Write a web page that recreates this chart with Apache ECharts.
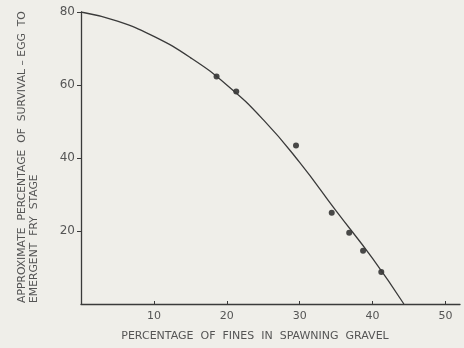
<!DOCTYPE html>
<html>
<head>
<meta charset="utf-8">
<script src="https://cdn.jsdelivr.net/npm/echarts@6/dist/echarts.min.js"></script>
<style>
  html, body { margin: 0; padding: 0; background: #efeee9; }
  #chart { width: 464px; height: 348px; }
</style>
</head>
<body>
<div id="chart"></div>
<script>
// fitted curve
var curveX = [0, 5, 10, 15, 20, 25, 30, 35, 40, 44.3];
var curveY = [80, 77.5, 73.3, 67.5, 60, 50.5, 38.8, 25.5, 12.5, 0];
// observed points
var obsX = [18.6, 21.3, 29.5, 34.4, 36.8, 38.7, 41.2];
var obsY = [62.3, 58.2, 43.4, 25.0, 19.5, 14.6, 8.8];
var xTicks = [10, 20, 30, 40, 50];
var yTicks = [20, 40, 60, 80];

var ink = '#3a3a3a', grey = '#555';
var font = 'DejaVu Sans';

var chart = echarts.init(document.getElementById('chart'));
chart.setOption({
  backgroundColor: '#efeee9',
  animation: false,
  grid: { left: 81, right: 4, top: 12, bottom: 44 },
  xAxis: {
    type: 'value', min: 0, max: 52,
    splitLine: { show: false },
    axisLine: { lineStyle: { color: ink, width: 1.3 } },
    axisTick: { inside: true, length: 3, customValues: xTicks, lineStyle: { color: ink } },
    axisLabel: { customValues: xTicks, color: grey, fontFamily: font, fontSize: 11, margin: 7 }
  },
  yAxis: {
    type: 'value', min: 0, max: 80,
    splitLine: { show: false },
    axisLine: { show: true, lineStyle: { color: ink, width: 1.3 } },
    axisTick: { show: true, length: 4, customValues: yTicks, lineStyle: { color: ink } },
    axisLabel: { customValues: yTicks, color: grey, fontFamily: font, fontSize: 12, margin: 6 }
  },
  series: [
    {
      type: 'line', smooth: true, symbol: 'none',
      lineStyle: { color: ink, width: 1.3 },
      data: curveX.map(function (x, i) { return [x, curveY[i]]; })
    },
    {
      type: 'scatter', symbolSize: 6,
      itemStyle: { color: '#1e1e1e' },
      data: obsX.map(function (x, i) { return [x, obsY[i]]; })
    }
  ],
  graphic: [
    {
      type: 'text', x: 255, y: 336,
      style: { text: 'PERCENTAGE  OF  FINES  IN  SPAWNING  GRAVEL', fill: grey,
        font: '11px "' + font + '"', textAlign: 'center', textVerticalAlign: 'middle' }
    },
    {
      type: 'text', x: 22, y: 303, rotation: Math.PI / 2,
      style: { text: 'APPROXIMATE  PERCENTAGE  OF  SURVIVAL – EGG  TO', fill: grey,
        font: '10.8px "' + font + '"', textAlign: 'left', textVerticalAlign: 'middle' }
    },
    {
      type: 'text', x: 34, y: 303, rotation: Math.PI / 2,
      style: { text: 'EMERGENT  FRY  STAGE', fill: grey,
        font: '10.8px "' + font + '"', textAlign: 'left', textVerticalAlign: 'middle' }
    }
  ]
});
</script>
</body>
</html>
